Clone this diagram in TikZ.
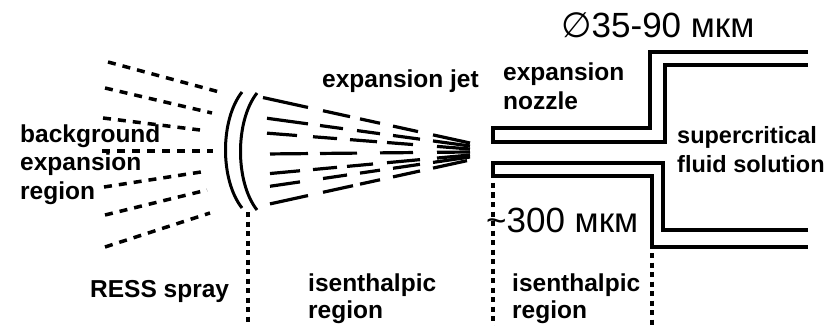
\documentclass[tikz,border=0pt]{standalone}
\usepackage{fontspec}
\setmainfont{Liberation Sans}
\newfontfamily\symfont{DejaVu Sans}
\begin{document}
\begin{tikzpicture}[x=1pt, y=-1pt, line join=miter,
  wall/.style={line width=3.2pt},
  shell/.style={line width=3pt},
  fence/.style={line width=3.2pt, dash pattern=on 5pt off 4.5pt},
  haze/.style={line width=3.5pt, dash pattern=on 8pt off 7pt},
  ray/.style={line width=3.2pt},
  lbl/.style={anchor=base west, inner sep=0pt, align=left,
    font=\bfseries\fontsize{24.5}{29}\selectfont},
  size/.style={anchor=base west, inner sep=0pt,
    font=\fontsize{35}{38}\selectfont}]
\useasboundingbox (0,0) rectangle (833,326);

% nozzle walls
\draw[wall] (808,52) -- (650,52) -- (650,128) -- (493,128) -- (493,142)
  -- (665,142) -- (665,65) -- (808,65);
\draw[wall] (808,230) -- (663,230) -- (663,163) -- (493,163) -- (493,176)
  -- (652,176) -- (652,247) -- (808,247);

% region borders
\draw[fence] (248,212) -- (248,326);
\draw[fence] (493,183) -- (493,326);
\draw[fence] (652,253) -- (652,326);

% background expansion
\foreach \xa/\ya/\xb/\yb in {108/62/223/93, 105/88/212/113, 103/118/200/130,
    102/151/213/151, 104/187/201/172, 105/215/207/190, 105/247/210/213}
  \draw[haze] (\xa,\ya) -- (\xb,\yb);

% shock fronts
\draw[shell] (242,92) .. controls (220,120) and (220,180) .. (242,208);
\draw[shell] (257,93) .. controls (235,121) and (235,182) .. (257,210);

% jet streaks
\foreach \yl/\yr/\segs in {
    98/143/{263/308,323/350,360/380,393/418,433/470},
    118/146/{267/308,320/343,357/380,393/420,433/470},
    133/149/{267/297,313/337,350/377,387/413,437/470},
    154/152/{270/308,320/357,380/413,437/470},
    174/155/{270/300,313/337,347/373,387/420,437/470},
    187/157/{270/300,323/347,360/380,393/420,433/470},
    205/160/{270/308,323/353,360/380,393/420,433/467}}
  \foreach \a/\b in \segs
    \draw[ray] (\a,{\yl+(\yr-\yl)*(\a-265)/205}) -- (\b,{\yl+(\yr-\yl)*(\b-265)/205});

% labels (base sits on the last line)
\node[lbl] (bgr) at (20,200) {background\\expansion\\region};
\node[lbl] (jet) at (322,88) {expansion jet};
\node[lbl] (noz) at (503,110) {expansion\\nozzle};
\node[lbl, font=\bfseries\fontsize{23.5}{29}\selectfont] (scf) at (677,173) {supercritical\\fluid solution};
\node[lbl] (ress) at (90,297) {RESS spray};
\node[lbl, font=\bfseries\fontsize{24.5}{27}\selectfont] (ise1) at (308,318) {isenthalpic\\region};
\node[lbl, font=\bfseries\fontsize{24.5}{27}\selectfont] (ise2) at (512,318) {isenthalpic\\region};
\node[size] (dia) at (561,38) {{\symfont ∅}35-90 мкм};
\node[size] (len) at (486,232) {\textasciitilde300 мкм};
\end{tikzpicture}
\end{document}
